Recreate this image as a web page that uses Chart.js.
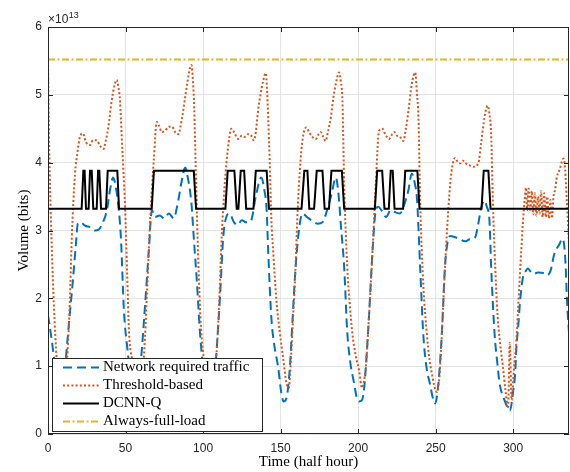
<!DOCTYPE html>
<html>
<head>
<meta charset="utf-8">
<script src="https://cdn.jsdelivr.net/npm/chart.js@4.4.1/dist/chart.umd.min.js"></script>
<style>
  html, body { margin: 0; padding: 0; background: #fff; }
  #wrap { width: 570px; height: 472px; }
</style>
</head>
<body>
<div id="wrap"><canvas id="chart" width="570" height="472"></canvas></div>
<script>
// ─── Data (volume in units of 1e13 bits, x in half hours) ────
const xTicks = [0, 50, 100, 150, 200, 250, 300];
const yTicks = [0, 1, 2, 3, 4, 5, 6];
const xEnd = 336;
const seriesNames = ['Network required traffic', 'Threshold-based', 'DCNN-Q', 'Always-full-load'];

const trafficPts = [
  [0,1.75],[2,1.45],[4,1.1],[6,0.72],[8,0.52],[10,0.7],[12,1.24],[14,1.75],[16,2.25],[18,2.8],
  [19.2,3.1],[21,3.12],[24,3.07],[27,3.05],[30,3.0],[33,3.02],[35,3.1],[38,3.3],[40,3.6],[42,3.78],
  [44,3.6],[45,3.44],[47,2.9],[49,1.8],[51,1.3],[53,0.9],[55.5,0.55],[58,0.7],[60,1.1],[62.8,1.97],
  [65,2.7],[67,3.3],[69,3.2],[72,3.22],[75,3.18],[78,3.25],[81,3.18],[84,3.44],[86,3.7],[88.5,3.93],
  [90,3.8],[92.5,3.4],[94,2.9],[96,2.25],[98,1.5],[99.5,1.1],[102,0.7],[104,0.5],[106,0.6],[108,1.0],
  [109.5,1.5],[111,2.05],[113,2.9],[115,3.2],[117,3.25],[120,3.12],[122,3.08],[125,3.15],[128,3.12],[131,3.15],
  [134,3.5],[137.5,3.78],[139.5,3.6],[141,3.3],[142,2.7],[144,1.73],[146,1.3],[148.4,0.99],[150.5,0.6],[152,0.48],
  [154,0.55],[156,0.99],[157.5,1.6],[159,2.22],[160.5,2.7],[162.4,3.1],[164,3.25],[167,3.2],[170,3.15],[174,3.1],
  [177,3.12],[180,3.3],[183,3.55],[185.6,3.78],[187.5,3.5],[188.8,3.1],[191,2.46],[193,1.5],[195,1.05],[197.4,0.75],
  [199,0.55],[200.5,0.48],[202.5,0.5],[204,0.7],[205,0.99],[207,1.73],[209.3,2.7],[211.4,3.3],[213,3.35],[215,3.3],
  [218,3.2],[221,3.3],[224,3.27],[227,3.25],[230,3.4],[232.5,3.6],[234.6,3.84],[236.5,3.7],[238,3.45],[240,2.46],
  [242,1.48],[244,1.0],[246.5,0.72],[248,0.55],[249.7,0.45],[251.8,0.75],[254,1.48],[256,2.46],[257.5,2.8],[259.4,2.92],
  [262.5,2.9],[265,2.88],[269,2.84],[272,2.87],[275.5,2.9],[277.5,3.1],[279.4,3.34],[281.5,3.44],[283,3.35],[284.7,3.15],
  [285.8,2.46],[288,1.48],[290,1.0],[291.2,0.75],[294.4,0.5],[296.6,0.38],[298,0.35],[299.8,0.6],[301.3,0.9],[302,1.24],
  [303.4,1.63],[304.5,1.97],[306.3,2.31],[308,2.4],[309.5,2.44],[311,2.4],[313,2.36],[316,2.38],[320,2.37],[322,2.34],
  [324,2.4],[326.6,2.66],[329.9,2.8],[331.6,2.88],[332.8,2.8],[333.8,2.5],[334.6,2.02],[335.3,1.73],[336,1.5]
];

const thresholdPts = [
  [0,5.5],[0.7,4.3],[1.5,3.5],[2.5,2.7],[3.8,1.9],[5.6,1.1],[7,0.8],[9,0.7],[11,0.85],[12.7,1.24],
  [14,1.9],[15.3,2.86],[17.4,3.83],[19,4.15],[20.6,4.38],[22.5,4.43],[24.5,4.3],[27,4.26],[29,4.33],[31.4,4.33],
  [33.5,4.25],[35.7,4.2],[37.5,4.35],[38.9,4.52],[41,4.9],[43,5.15],[44.3,5.22],[45.5,5.1],[46.5,4.9],[47.5,4.4],
  [48.5,3.94],[49.7,3.35],[51,2.4],[52.3,1.48],[54.2,1.1],[56,0.85],[58,0.75],[60,0.85],[62,1.2],[63.9,2.12],
  [66,3.2],[68.2,4.03],[70.2,4.6],[71.5,4.55],[73.5,4.45],[75.5,4.47],[77.9,4.53],[80,4.53],[82,4.45],[84,4.42],
  [86.5,4.67],[89.6,5.14],[91.6,5.4],[92.5,5.44],[93.5,5.2],[94.3,4.8],[95.2,4.0],[96.1,3.2],[97,2.5],[98.3,1.73],
  [100,1.2],[101,1.1],[103,0.85],[105,0.75],[107,0.85],[109,1.3],[110.5,2.0],[112,2.9],[114,3.69],[116,4.2],
  [118.3,4.5],[120,4.45],[122.6,4.35],[125,4.4],[127,4.38],[129,4.42],[131,4.4],[132.8,4.33],[134,4.45],[135.5,4.77],
  [137,5.0],[138.7,5.2],[140.4,5.32],[141.2,5.1],[142,4.67],[143,4.0],[144,3.2],[145.5,2.6],[147.3,1.97],[149.5,1.5],
  [151.6,1.13],[153.8,0.75],[155.3,0.68],[156.2,0.9],[157,1.24],[158,1.7],[159.2,2.22],[161.3,3.44],[163.4,4.18],[165,4.45],
  [166.6,4.52],[168.4,4.45],[170.5,4.38],[172.7,4.35],[174.5,4.42],[176,4.45],[177.5,4.38],[179,4.32],[180.5,4.45],[182.4,4.67],
  [184,4.95],[185.6,5.16],[187.7,5.33],[188.8,5.2],[189.9,4.91],[191,3.69],[193,2.46],[194.5,1.95],[196.3,1.48],[198.5,1.15],
  [200.6,0.94],[202.5,0.68],[203.5,0.75],[205,0.99],[207,1.73],[209.3,2.7],[211.4,3.69],[213.5,4.47],[215.7,4.5],[217.5,4.42],
  [220,4.35],[222,4.42],[223.5,4.45],[225,4.4],[227,4.38],[229.2,4.32],[230.8,4.5],[232.5,4.77],[234.6,5.16],[236.8,5.33],
  [238,5.0],[238.9,4.67],[240,3.44],[242,2.22],[244.3,1.48],[246,1.1],[247.5,0.9],[249,0.72],[250.8,0.62],[252,0.75],
  [252.9,0.99],[255,1.97],[257.2,2.95],[259.4,3.69],[261,3.98],[262.6,4.07],[264,4.02],[265.8,3.99],[267.5,4.03],[269,4.0],
  [270.5,3.97],[272,3.96],[274.4,3.94],[277.6,4.0],[279.4,4.3],[281.5,4.67],[283.5,4.84],[284.8,4.7],[285.8,4.42],[286.9,3.44],
  [288,2.7],[290,1.73],[291.5,1.35],[293.4,0.99],[295,0.65],[296.7,0.38],[297.8,1.34],[299,0.5],[300.5,0.95],[302,1.35],
  [303.3,1.9],[305.2,2.7],[307.3,3.44],[308.4,3.63],[309,3.3],[310,3.62],[311,3.28],[312,3.58],[313,3.24],[314,3.55],
  [315,3.22],[316,3.5],[317,3.25],[318,3.58],[319,3.2],[320,3.55],[321,3.2],[322,3.5],[323,3.18],[324,3.45],
  [325,3.18],[326,3.5],[327,3.6],[328.2,3.79],[330,3.9],[331.5,4.02],[332.5,4.06],[333.5,3.9],[334.6,3.44],[336,2.8]
];

// DCNN-Q switches between two capacity levels
const dcnnLow = 3.32;
const dcnnHigh = 3.88;
const dcnnSteps = [
  [0,'L'],[21.7,'L'],[22.8,'H'],[23.6,'H'],[24.5,'L'],[26.2,'L'],[27.1,'H'],[28.2,'H'],[29.2,'L'],
  [31.4,'L'],[32.3,'H'],[33.1,'H'],[34.2,'L'],[37.4,'L'],[38.5,'H'],[44.7,'H'],[45.8,'L'],
  [66.9,'L'],[68.3,'H'],[94,'H'],[95.5,'L'],
  [114.4,'L'],[115.9,'H'],[120.2,'H'],[121.7,'L'],[122.8,'L'],[124.3,'H'],[126.5,'H'],[127.8,'L'],
  [132.5,'L'],[134,'H'],[141,'H'],[142.5,'L'],
  [163.5,'L'],[165.3,'H'],[167.3,'H'],[168.5,'L'],[171.6,'L'],[173.3,'H'],[177,'H'],[178.4,'L'],
  [181.2,'L'],[182.8,'H'],[189.5,'H'],[191,'L'],
  [210.8,'L'],[212.3,'H'],[215.5,'H'],[217,'L'],[219.8,'L'],[221,'H'],[222.3,'H'],[223.5,'L'],
  [229,'L'],[230.4,'H'],[238.2,'H'],[239.6,'L'],
  [279.6,'L'],[281,'H'],[284,'H'],[285.4,'L'],[336,'L']
];

const fullLoadLevel = 5.52;

// ─── Styles ─────────────────────────────────────────────────
const AXIS = '#262626';
const colors = ['#0072BD', '#D95319', '#000000', '#EDB120'];
const dashes = [[9, 5], [2, 2.2], [], [7, 2.5, 2, 2.5]];
const SANS = '"Liberation Sans", Arial, sans-serif';
const SERIF = '"Liberation Serif", "Times New Roman", serif';

const toXY = (pts) => pts.map(([x, y]) => ({ x, y }));

const datasets = [
  { label: seriesNames[0], data: toXY(trafficPts), cubicInterpolationMode: 'monotone', order: 4 },
  { label: seriesNames[1], data: toXY(thresholdPts), cubicInterpolationMode: 'monotone', order: 3 },
  { label: seriesNames[2], data: dcnnSteps.map(([x, s]) => ({ x, y: s === 'H' ? dcnnHigh : dcnnLow })), tension: 0, order: 2 },
  { label: seriesNames[3], data: [{ x: 0, y: fullLoadLevel }, { x: xEnd, y: fullLoadLevel }], tension: 0, order: 1 },
].map((d, i) => ({
  ...d,
  borderColor: colors[i],
  borderDash: dashes[i],
  borderWidth: 2,
  borderCapStyle: 'butt',
  pointRadius: 0,
  fill: false,
}));

// ─── Box, inward ticks, exponent and legend ─────────────────
const frame = {
  id: 'frame',
  afterDatasetsDraw(chart) {
    const { ctx, chartArea: a, scales: { x, y } } = chart;
    ctx.save();
    ctx.strokeStyle = AXIS;
    ctx.lineWidth = 1;
    ctx.setLineDash([]);
    ctx.strokeRect(a.left + 0.5, a.top + 0.5, a.right - a.left - 1, a.bottom - a.top - 1);
    const tl = 5;
    ctx.beginPath();
    xTicks.forEach((v) => {
      const px = Math.round(x.getPixelForValue(v)) + 0.5;
      ctx.moveTo(px, a.bottom); ctx.lineTo(px, a.bottom - tl);
      ctx.moveTo(px, a.top); ctx.lineTo(px, a.top + tl);
    });
    yTicks.forEach((v) => {
      const py = Math.round(y.getPixelForValue(v)) + 0.5;
      ctx.moveTo(a.left, py); ctx.lineTo(a.left + tl, py);
      ctx.moveTo(a.right, py); ctx.lineTo(a.right - tl, py);
    });
    ctx.stroke();

    // ×10^13 multiplier
    ctx.fillStyle = AXIS;
    ctx.textBaseline = 'alphabetic';
    ctx.textAlign = 'left';
    ctx.font = `12px ${SANS}`;
    ctx.fillText('\u00d710', a.left, 23);
    const w = ctx.measureText('\u00d710').width;
    ctx.font = `9px ${SANS}`;
    ctx.fillText('13', a.left + w + 0.5, 18);
    ctx.restore();
  },
  afterDraw(chart) {
    const { ctx } = chart;
    const box = { x: 52, y: 358, w: 211, h: 74 };
    const rows = [367, 385, 403, 421];
    ctx.save();
    ctx.fillStyle = '#ffffff';
    ctx.fillRect(box.x, box.y, box.w, box.h);
    ctx.strokeStyle = AXIS;
    ctx.lineWidth = 1;
    ctx.strokeRect(box.x + 0.5, box.y + 0.5, box.w - 1, box.h - 1);
    chart.data.datasets.forEach((ds, i) => {
      const ry = rows[i] + 0.5;
      ctx.strokeStyle = ds.borderColor;
      ctx.lineWidth = ds.borderWidth;
      ctx.setLineDash(ds.borderDash);
      ctx.lineCap = 'butt';
      ctx.beginPath();
      ctx.moveTo(63, ry); ctx.lineTo(99, ry);
      ctx.stroke();
      ctx.setLineDash([]);
      ctx.fillStyle = '#000';
      ctx.font = `15px ${SERIF}`;
      ctx.textBaseline = 'middle';
      ctx.textAlign = 'left';
      ctx.fillText(ds.label, 103, rows[i]);
    });
    ctx.restore();
  },
};

new Chart(document.getElementById('chart'), {
  type: 'line',
  data: { datasets },
  options: {
    responsive: false,
    animation: false,
    devicePixelRatio: 1,
    layout: { padding: { top: 27, right: 1, left: 0, bottom: 0 } },
    plugins: { legend: { display: false }, tooltip: { enabled: false } },
    scales: {
      x: {
        type: 'linear', min: 0, max: xEnd,
        afterFit: (s) => { s.height = 38; },
        afterBuildTicks: (s) => { s.ticks = xTicks.map((v) => ({ value: v })); },
        ticks: { color: AXIS, font: { family: SANS, size: 12 }, padding: 7, maxRotation: 0 },
        grid: { color: '#e3e3e3', drawTicks: false },
        border: { display: false },
        title: { display: true, text: 'Time (half hour)', color: '#000', font: { family: SERIF, size: 15 }, padding: { top: 0, bottom: 1 } },
      },
      y: {
        min: 0, max: 6,
        afterFit: (s) => { s.width = 48; },
        afterBuildTicks: (s) => { s.ticks = yTicks.map((v) => ({ value: v })); },
        ticks: { color: AXIS, font: { family: SANS, size: 12 }, padding: 6 },
        grid: { color: '#e3e3e3', drawTicks: false },
        border: { display: false },
        title: { display: true, text: 'Volume (bits)', color: '#000', font: { family: SERIF, size: 15 }, padding: { top: 15, bottom: 0 } },
      },
    },
  },
  plugins: [frame],
});
</script>
</body>
</html>
